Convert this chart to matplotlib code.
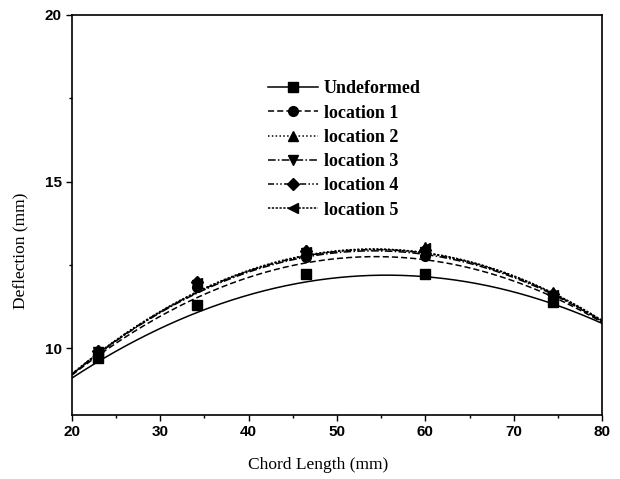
import numpy as np
import matplotlib
matplotlib.use("Agg")
import matplotlib.pyplot as plt
from matplotlib.ticker import MultipleLocator

# measured points
chord = [23.0, 34.1, 46.5, 60.0, 74.5]
undeformed = [9.71, 11.30, 12.24, 12.24, 11.38]
location1 = [9.86, 11.84, 12.74, 12.78, 11.55]
location2 = [9.95, 11.96, 12.95, 13.05, 11.68]
location3 = [9.88, 11.90, 12.86, 12.90, 11.58]
location4 = [9.92, 12.00, 12.92, 12.96, 11.62]
location5 = [9.90, 11.95, 12.90, 13.00, 11.60]

# fitted-curve values
fit_x = [20, 35, 50, 65, 80]
fit_undeformed = [9.11, 11.16, 12.12, 11.98, 10.75]
fit_location1 = [9.20, 11.62, 12.69, 12.42, 10.78]
fit_location2 = [9.24, 11.80, 12.93, 12.60, 10.82]
fit_location3 = [9.22, 11.76, 12.87, 12.55, 10.80]
fit_location4 = [9.23, 11.79, 12.91, 12.58, 10.82]
fit_location5 = [9.22, 11.78, 12.92, 12.60, 10.84]

labels = ["Undeformed", "location 1", "location 2", "location 3", "location 4", "location 5"]
series = [undeformed, location1, location2, location3, location4, location5]
fits = [fit_undeformed, fit_location1, fit_location2, fit_location3, fit_location4, fit_location5]
markers = ["s", "o", "^", "v", "D", "<"]
styles = ["-", (0, (4, 2)), (0, (1, 1.5)), (0, (5, 1.5, 1, 1.5)), (0, (4, 1.5, 1, 1.5, 1, 1.5)), (0, (1.5, 1))]

fig = plt.figure(figsize=(6.2, 4.79), dpi=100)
ax = fig.add_axes([0.1161, 0.1336, 0.8549, 0.8351])

xs = np.linspace(20, 80, 200)
for ys, fy, m, ls in zip(series, fits, markers, styles):
    coef = np.polyfit(fit_x, fy, 2)
    ax.plot(xs, np.polyval(coef, xs), color="black", lw=1.1, ls=ls)
    ax.plot(chord, ys, ls="none", marker=m, color="black",
            markersize=7 if m != "D" else 6)

handles = []
for lab, m, ls in zip(labels, markers, styles):
    h, = ax.plot([], [], color="black", lw=1.1, ls=ls, marker=m,
                 markersize=7 if m != "D" else 6, label=lab)
    handles.append(h)

fig.legend(handles=handles, loc="upper left", bbox_to_anchor=(0.432, 0.832),
           frameon=False, handlelength=2.8, handletextpad=0.3,
           labelspacing=0.4, borderpad=0, borderaxespad=0,
           prop={"family": "Liberation Serif", "size": 13, "weight": "bold"})

ax.set_xlim(20, 80)
ax.set_ylim(8, 20)
ax.xaxis.set_major_locator(MultipleLocator(10))
ax.xaxis.set_minor_locator(MultipleLocator(5))
ax.yaxis.set_major_locator(MultipleLocator(5))
ax.yaxis.set_minor_locator(MultipleLocator(2.5))
ax.tick_params(which="major", direction="out", length=4, width=1.0)
ax.tick_params(which="minor", direction="out", length=2, width=1.0)
for lab in ax.get_xticklabels() + ax.get_yticklabels():
    lab.set_family("Liberation Sans")
    lab.set_fontweight("bold")
    lab.set_fontsize(11)
for sp in ax.spines.values():
    sp.set_linewidth(1.2)

ax.set_xlabel("Chord Length (mm)", family="Liberation Serif", fontsize=12.5, va="center")
ax.set_ylabel("Deflection (mm)", family="Liberation Serif", fontsize=12.5, va="center")
ax.xaxis.set_label_coords(0.464, -0.125)
ax.yaxis.set_label_coords(-0.098, 0.41)

fig.savefig("out.png", dpi=100)
